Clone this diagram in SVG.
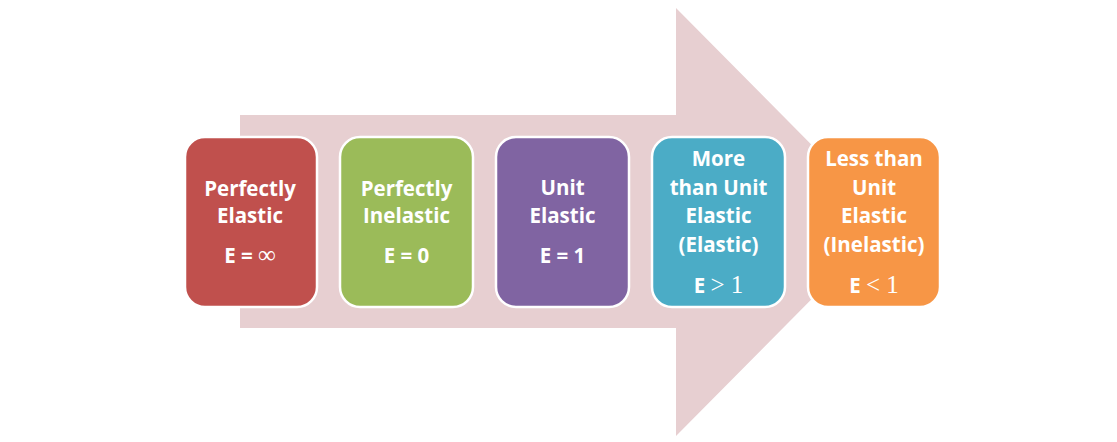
<svg xmlns="http://www.w3.org/2000/svg" width="1117" height="442" viewBox="0 0 1117 442">
<style>
.box{stroke:#ffffff;stroke-width:2.5}
.t{font-family:"Open Sans","Liberation Sans",sans-serif;font-weight:700;font-size:20.5px;fill:#ffffff;text-anchor:middle}
.s{font-family:"Liberation Serif",serif;font-weight:400}
</style>
<rect width="1117" height="442" fill="#ffffff"/>
<g id="connectors">
<path d="M240,115 L676,115 L676,8 L888,222 L676,436 L676,328 L240,328 Z" fill="#E7CFD1"/>
</g>
<g id="node1">
<rect class="box" x="185" y="137" width="132" height="170" rx="20" fill="#C0504D"/>
<text class="t" x="250" y="196">Perfectly</text>
<text class="t" x="250" y="223">Elastic</text>
<text class="t" x="250" y="263">E = <tspan class="s" font-size="25">∞</tspan></text>
</g>
<g id="node2">
<rect class="box" x="340" y="137" width="133" height="170" rx="20" fill="#9BBB59"/>
<text class="t" x="406.5" y="196">Perfectly</text>
<text class="t" x="406.5" y="223">Inelastic</text>
<text class="t" x="406.5" y="263">E = 0</text>
</g>
<g id="node3">
<rect class="box" x="496" y="137" width="133" height="170" rx="20" fill="#8064A2"/>
<text class="t" x="562.5" y="195">Unit</text>
<text class="t" x="562.5" y="223">Elastic</text>
<text class="t" x="562.5" y="263">E = 1</text>
</g>
<g id="node4">
<rect class="box" x="652" y="137" width="133" height="170" rx="20" fill="#4BACC6"/>
<text class="t" x="718.5" y="166">More</text>
<text class="t" x="718.5" y="195">than Unit</text>
<text class="t" x="718.5" y="223">Elastic</text>
<text class="t" x="718.5" y="252">(Elastic)</text>
<text class="t" x="718.5" y="293">E <tspan class="s" font-size="25">&gt; 1</tspan></text>
</g>
<g id="node5">
<rect class="box" x="808" y="137" width="132" height="170" rx="20" fill="#F79646"/>
<text class="t" x="874" y="166">Less than</text>
<text class="t" x="874" y="195">Unit</text>
<text class="t" x="874" y="223">Elastic</text>
<text class="t" x="874" y="252">(Inelastic)</text>
<text class="t" x="874" y="293">E <tspan class="s" font-size="25">&lt; 1</tspan></text>
</g>
</svg>
